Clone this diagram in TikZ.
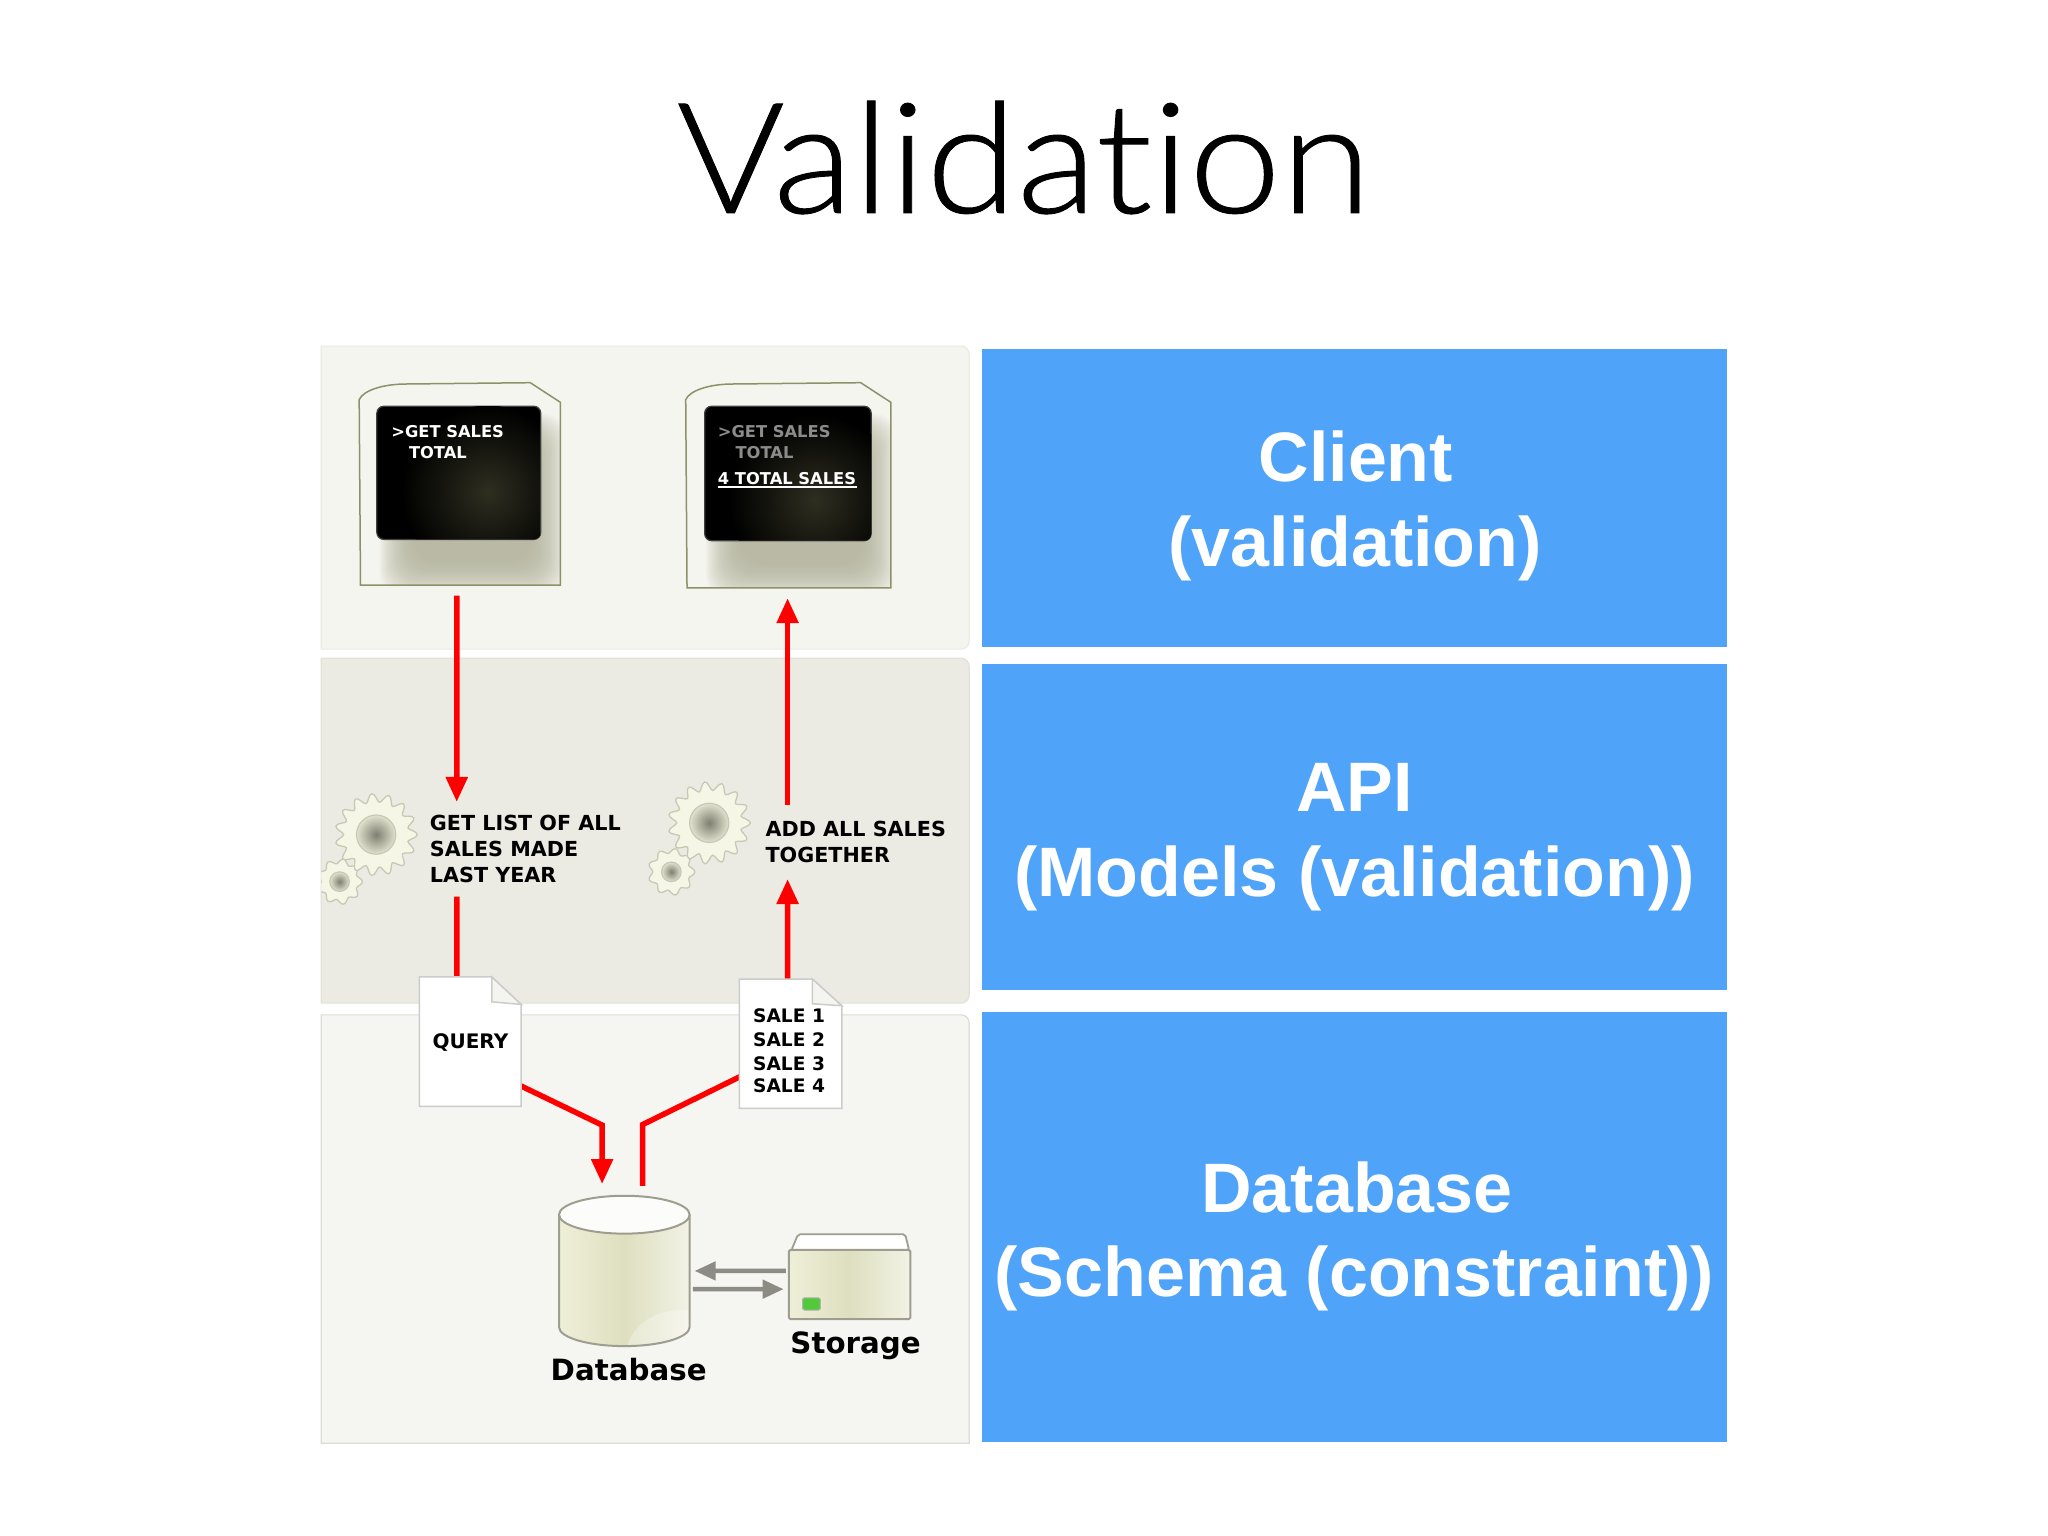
\documentclass[tikz,border=0pt]{standalone}
\usepackage{fontspec}
\setmainfont{Liberation Sans}
\newfontfamily\dv{DejaVu Sans}
\newfontfamily\ttl{Lato Light}[Ligatures=NoCommon,FakeStretch=1.07,FakeBold=0.6]
\usetikzlibrary{arrows.meta,calc,fit}
\definecolor{blueb}{HTML}{4FA3F8}
\definecolor{panela}{HTML}{F5F5F0}
\definecolor{panelb}{HTML}{ECEBE3}
\definecolor{panelc}{HTML}{F5F5F1}
\definecolor{monline}{HTML}{8E9068}
\definecolor{monshadow}{HTML}{B2B39C}
\definecolor{gearfill}{HTML}{F6F6E6}
\definecolor{gearline}{HTML}{C8C8B6}
\definecolor{gearcore}{HTML}{7F7F70}
\definecolor{gearring}{HTML}{E2E2D0}
\definecolor{arrgrey}{HTML}{8C8C84}
\definecolor{dbline}{HTML}{9E9E90}
\definecolor{dbl}{HTML}{EEEFD8}
\definecolor{dbm}{HTML}{DEDFBF}
\definecolor{dbr}{HTML}{F2F2E6}
\definecolor{glow}{HTML}{2E2E20}
\definecolor{ledg}{HTML}{52C93A}
\tikzset{
  x=1.30612pt,y=-1.30612pt,
  region/.style={inner sep=0pt,outer sep=0pt},
  bluebox/.style={region,fill=blueb},
  bluetext/.style={anchor=base,text=white,inner sep=0pt,font=\fontsize{70}{84}\selectfont\bfseries},
  smalltext/.style={anchor=base west,inner sep=0pt,text=black,font=\dv\fontsize{20.7}{25}\selectfont\bfseries},
  doctext/.style={anchor=base west,inner sep=0pt,text=black,font=\dv\fontsize{18.6}{23}\selectfont\bfseries},
  querytext/.style={anchor=base west,inner sep=0pt,text=black,font=\dv\fontsize{20}{24}\selectfont\bfseries},
  montext/.style={anchor=base west,inner sep=0pt,font=\dv\fontsize{16.3}{20}\selectfont\bfseries},
  labeltext/.style={anchor=base west,inner sep=0pt,text=black,font=\dv\fontsize{29.3}{35}\selectfont\bfseries},
  redline/.style={draw=red,line width=5.5pt},
  redarrow/.style={draw=red,line width=5.5pt,-{Triangle[length=25pt,width=21pt]}},
  greyarrow/.style={draw=arrgrey,line width=4.5pt,-{Triangle[length=21pt,width=18pt]}},
  panelshape/.style={line width=1.2pt},
  docshape/.style={draw=black!20,line width=1.5pt,fill=white},
}
% L R T B of the outline, then the screen corners
\newcommand\monitorbody[8]{%
  \begin{scope}
    \clip (#1+1,#4) -- (#1,#3+13) .. controls (#1+3,#3+6) and (#1+18,#3+1) .. (#1+36,#3+1)
      -- (#2-23,#3) -- (#2,#3+15) -- (#2,#4) -- cycle;
    \fill[panela] (#1,#3) rectangle (#2,#4);
    \foreach \e in {0,1.2,...,26.4}
      \fill[monshadow,opacity=.075,rounded corners=24pt] (#1+42-\e,#3+50-\e) rectangle (#2-22+\e,#4-18+\e);
  \end{scope}
  \draw[monline,line width=1.5pt] (#1+1,#4) -- (#1,#3+13) .. controls (#1+3,#3+6) and (#1+18,#3+1) .. (#1+36,#3+1)
      -- (#2-23,#3) -- (#2,#3+15) -- (#2,#4) -- cycle;
  \fill[black,draw=black!75,line width=1.2pt,rounded corners=7pt] (#5,#6) rectangle (#7,#8);
}
% cx cy R teeth inner-radius
\newcommand\gearwheel[5]{%
  \draw[gearline,fill=gearfill,line width=1.3pt]
    plot[domain=0:360,samples=#4*8+1,variable=\t]
      ({#1+#3*(0.895+0.105*cos(#4*\t))*cos(\t)},{#2+#3*(0.895+0.105*cos(#4*\t))*sin(\t)}) -- cycle;
  \shade[inner color=gearcore,outer color=gearring] (#1,#2) circle (#5);
  \draw[gearline,line width=1.2pt] (#1,#2) circle (#5);
}
\begin{document}
\begin{tikzpicture}
\useasboundingbox (0,0) rectangle (1568,1176);
\fill[white] (0,0) rectangle (1568,1176);
\node[anchor=base,inner sep=0pt,font=\ttl\fontsize{154}{154}\selectfont] (title) at (784,163) {Validation};

% panels
\draw[panelshape,fill=panela,draw=panela!96!black] (246,265) [rounded corners=8pt] -- (742,265) -- (742,497) [sharp corners] -- (246,497) -- cycle;
\draw[panelshape,fill=panelb,draw=panelb!96!black] (246,504) [rounded corners=8pt] -- (742,504) -- (742,768) [sharp corners] -- (246,768) -- cycle;
\draw[panelshape,fill=panelc,draw=panelc!90!black] (246,777) [rounded corners=8pt] -- (742,777) [sharp corners] -- (742,1105) -- (246,1105) -- cycle;

% blue column
\node[bluebox,fit={(752,267) (1322,495)}] (bclient) {};
\node[bluebox,fit={(752,508) (1322,758)}] (bapi) {};
\node[bluebox,fit={(752,775) (1322,1104)}] (bdb) {};
\node[bluetext] (lclienta) at (1038,369) {Client};
\node[bluetext] (lclientb) at (1037.5,434) {(validation)};
\node[bluetext] (lapia) at (1037,621) {API};
\node[bluetext] (lapib) at (1037,686) {(Models (validation))};
\node[bluetext] (ldba) at (1039,928) {Database};
\node[bluetext] (ldbb) at (1037,993) {(Schema (constraint))};

% monitors
\monitorbody{275}{429}{293}{448}{288.5}{311}{414}{413}
\begin{scope}
  \clip[rounded corners=7pt] (288.5,311) rectangle (414,413);
  \shade[inner color=glow,outer color=black] (373.5,376.5) circle (66);
\end{scope}
\node[region,fit={(275,293) (429,448)}] (mon1) {};
\node[montext,text=white] (m1a) at (299.5,335) {>GET SALES};
\node[montext,text=white] (m1b) at (313,351) {TOTAL};

\monitorbody{525}{682}{293}{450}{539.5}{311}{667}{414}
\begin{scope}
  \clip[rounded corners=7pt] (539.5,311) rectangle (667,414);
  \shade[inner color=glow,outer color=black] (624,383) circle (66);
\end{scope}
\node[region,fit={(525,293) (682,450)}] (mon2) {};
\node[montext,text=black!45] (m2a) at (549.5,335) {>GET SALES};
\node[montext,text=black!45] (m2b) at (563,351) {TOTAL};
\node[montext,text=white] (m2c) at (549.5,371) {4 TOTAL SALES};
\coordinate (ula) at (549.5,372.8);
\coordinate (ulb) at (656.5,372.8);
\draw[white,line width=1.5pt] (ula) -- (ulb);

% gears
\begin{scope}
  \clip (246,504) rectangle (742,768);
  \gearwheel{260}{675}{17.5}{9}{7.5}
  \gearwheel{288}{639}{31.5}{15}{15}
  \gearwheel{514}{667.5}{18}{9}{7.5}
  \gearwheel{543}{630}{31.5}{15}{15}
\end{scope}

% panel texts
\node[smalltext] (t1a) at (329,635.5) {GET LIST OF ALL};
\node[smalltext] (t1b) at (329,655.5) {SALES MADE};
\node[smalltext] (t1c) at (329,675.5) {LAST YEAR};
\node[smalltext] (t2a) at (586,640.5) {ADD ALL SALES};
\node[smalltext] (t2b) at (586,660.5) {TOGETHER};

% placeholders for nodes used by connectors
\node[region,fit={(321,748) (399,847)}] (doc1) {};
\node[region,fit={(566,749.6) (644.5,848.6)}] (doc2) {};
\node[region,fit={(428,915.5) (528,1030.6)}] (db) {};
\node[region,fit={(604,945) (697,1010)}] (storage) {};

% red connectors
\coordinate (kq) at (461,861.4);
\coordinate (ks) at (492,861);
\draw[redarrow] ($(mon1.south)+(-2.3,8)$) -- ($(t1a.base west)+(20.7,-21.5)$);
\draw[redline] ($(t1c.base west)+(20.7,11)$) -- ($(doc1.north)+(-10.3,2)$);
\draw[redarrow] ($(doc1.east)+(-1,33.5)$) -- (kq) -- ($(db.north)+(-17,-9)$);
\draw[redline] ($(db.north)+(14,-7.5)$) -- (ks) -- ($(doc2.west)+(1,25)$);
\draw[redarrow] ($(doc2.north)+(-2.2,2)$) -- ($(t2b.base west)+(17,12.5)$);
\draw[redarrow] ($(t2a.base west)+(17,-24.5)$) -- ($(mon2.south)+(-0.5,8)$);

% documents
\draw[docshape] (321,748) -- (376.5,748) -- (399,769) -- (399,847) -- (321,847) -- cycle;
\draw[docshape,fill=panela] (376.5,748) -- (376.5,767) -- (399,769) -- cycle;
\node[querytext] (dq) at (331,802.6) {QUERY};

\draw[docshape] (566,749.6) -- (622,749.6) -- (644.5,770) -- (644.5,848.6) -- (566,848.6) -- cycle;
\draw[docshape,fill=panela] (622,749.6) -- (622,768.5) -- (644.5,770) -- cycle;
\node[doctext] (ds1) at (576.5,783) {SALE 1};
\node[doctext] (ds2) at (576.5,801.4) {SALE 2};
\node[doctext] (ds3) at (576.5,819.3) {SALE 3};
\node[doctext] (ds4) at (576.5,836.6) {SALE 4};

% database
\begin{scope}
  \clip (428,930) -- (428,1016) arc[x radius=50,y radius=14.6,start angle=180,end angle=0] -- (528,930) -- cycle;
  \shade[left color=dbl,right color=dbr,middle color=dbm] (428,915) rectangle (528,1031);
  \fill[white,opacity=.3] (522,1036) ellipse (42 and 33);
\end{scope}
\draw[dbline,line width=2pt] (428,930) -- (428,1016) arc[x radius=50,y radius=14.6,start angle=180,end angle=0] -- (528,930);
\draw[dbline,fill=white!70!panelc,line width=2pt] (478,930) ellipse (50 and 14.5);

% storage
\draw[dbline,fill=white,line width=1.8pt,rounded corners=2pt] (606,957) -- (611,945) -- (693,945) -- (696,957) -- cycle;
\shade[left color=dbl,right color=dbr,middle color=dbm] (604,957) rectangle (697,1010);
\draw[dbline,line width=2pt,rounded corners=1.5pt] (604,957) rectangle (697,1010);
\fill[ledg,draw=black!30,line width=1pt,rounded corners=1.5pt] (614.5,993.6) rectangle (628,1003);

\draw[greyarrow] ($(storage.west)+(-2.4,-4.5)$) -- ($(db.east)+(3.8,0)$);
\draw[greyarrow] ($(db.east)+(2.5,14)$) -- ($(storage.west)+(-4,9.5)$);

\node[labeltext] (ldb) at (421.5,1057) {Database};
\node[labeltext] (lst) at (605,1036) {Storage};
\end{tikzpicture}
\end{document}
